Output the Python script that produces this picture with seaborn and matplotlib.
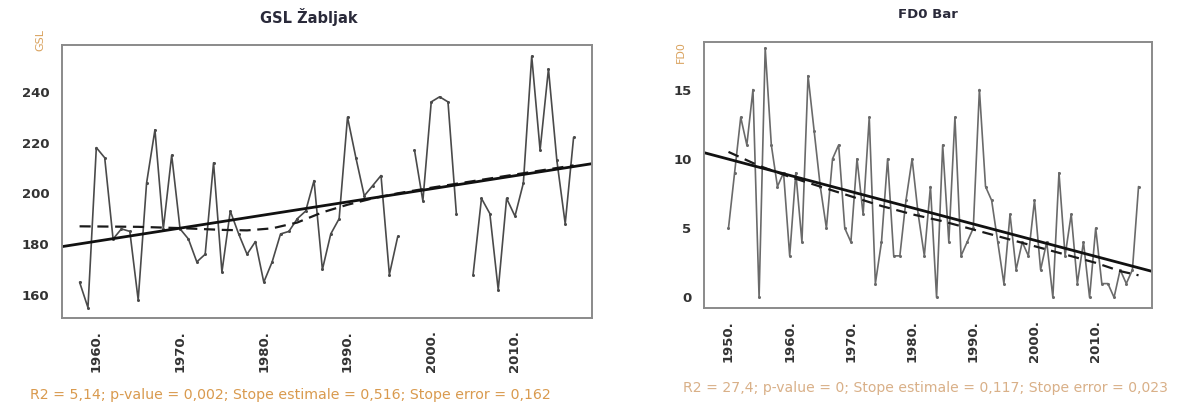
import numpy as np
import pandas as pd
import matplotlib
matplotlib.use("Agg")
import matplotlib.pyplot as plt
import seaborn as sns

# ---------------- data ----------------
gsl_years = list(range(1958, 2018))
gsl_values = [165, 155, 218, 214, 182, 186, 185, 158, 204, 225,
              186, 215, 186, 182, 173, 176, 212, 169, 193, 184,
              176, 181, 165, 173, 184, 185, 190, 193, 205, 170,
              184, 190, 230, 214, 199, 203, 207, 168, 183, np.nan,
              217, 197, 236, 238, 236, 192, np.nan, 168, 198, 192,
              162, 198, 191, 204, 254, 217, 249, 213, 188, 222]
gsl_smooth_years = [1958, 1965, 1970, 1975, 1978, 1981, 1984, 1987, 1990, 1993, 1996, 2000, 2005, 2010, 2017]
gsl_smooth_values = [187, 186.8, 186.3, 185.6, 185.4, 186.2, 188.5, 192.5, 195.5, 198, 200, 202.2, 204.8, 207.4, 211]
gsl_slope = 0.516
gsl_trend_at_1990 = 196.6

fd0_years = list(range(1950, 2018))
fd0_values = [5, 9, 13, 11, 15, 0, 18, 11, 8, 9,
              3, 9, 4, 16, 12, 8, 5, 10, 11, 5,
              4, 10, 6, 13, 1, 4, 10, 3, 3, 7,
              10, 6, 3, 8, 0, 11, 4, 13, 3, 4,
              5, 15, 8, 7, 4, 1, 6, 2, 4, 3,
              7, 2, 4, 0, 9, 3, 6, 1, 4, 0,
              5, 1, 1, 0, 2, 1, 2, 8]
fd0_smooth_years = [1950, 1955, 1960, 1965, 1970, 1975, 1980, 1985, 1990, 1995, 2000, 2005, 2010, 2014, 2017]
fd0_smooth_values = [10.5, 9.5, 8.7, 8.0, 7.3, 6.6, 6.0, 5.5, 4.9, 4.3, 3.7, 3.1, 2.5, 1.9, 1.6]
fd0_slope = -0.117
fd0_trend_at_1990 = 5.3

titles = ["GSL Žabljak", "FD0 Bar"]
ylabels = ["GSL", "FD0"]
captions = ["R2 = 5,14; p-value = 0,002; Stope estimale = 0,516; Stope error = 0,162",
            "R2 = 27,4; p-value = 0; Stope estimale = 0,117; Stope error = 0,023"]
gsl_xticks = [1960, 1970, 1980, 1990, 2000, 2010]
fd0_xticks = [1950, 1960, 1970, 1980, 1990, 2000, 2010]
gsl_yticks = [160, 180, 200, 220, 240]
fd0_yticks = [0, 5, 10, 15]

# ---------------- style ----------------
sns.set_style("white")
plt.rcParams['font.family'] = ['DejaVu Sans']

W, H = 1177, 405
fig = plt.figure(figsize=(W / 100, H / 100), dpi=100)

def frac_axes(x0, y0, x1, y1):
    return fig.add_axes([x0 / W, 1 - y1 / H, (x1 - x0) / W, (y1 - y0) / H])

ax1 = frac_axes(62, 45, 592, 318)
ax2 = frac_axes(704, 42, 1152, 308)

def segments(years, values):
    df = pd.DataFrame({"year": years, "value": values})
    df["seg"] = df["value"].isna().cumsum()
    return df.dropna()

def draw(ax, years, values, sm_years, sm_values, slope, at1990, xlim, ylim,
         xticks, yticks, line_color):
    df = segments(years, values)
    sns.lineplot(data=df, x="year", y="value", units="seg", estimator=None,
                 color=line_color, linewidth=1.2, marker="o", markersize=2.2,
                 markeredgewidth=0, ax=ax, legend=False)
    sm = pd.DataFrame({"year": sm_years, "value": sm_values})
    sns.lineplot(data=sm, x="year", y="value", color="#1a1a1a", linewidth=1.6,
                 linestyle=(0, (5, 3)), ax=ax, legend=False)
    tx = np.array(xlim)
    tr = pd.DataFrame({"year": tx, "value": at1990 + slope * (tx - 1990)})
    sns.lineplot(data=tr, x="year", y="value", color="#111111", linewidth=2.0,
                 ax=ax, legend=False)
    ax.set_xlim(*xlim)
    ax.set_ylim(*ylim)
    ax.set_xticks(xticks)
    ax.set_xticklabels([f"{t}." for t in xticks], rotation=90,
                       fontsize=9.5, fontweight="bold", color="#333333")
    ax.set_yticks(yticks)
    ax.set_yticklabels([str(t) for t in yticks], fontsize=9.5,
                       fontweight="bold", color="#333333")
    ax.tick_params(axis="both", direction="out", length=5, width=2,
                   color="#222222", pad=4)
    ax.set_xlabel("")
    ax.set_ylabel("")
    for s in ax.spines.values():
        s.set_color("#8a8a8a")
        s.set_linewidth(1.4)

draw(ax1, gsl_years, gsl_values, gsl_smooth_years, gsl_smooth_values,
     gsl_slope, gsl_trend_at_1990, (1955.9, 2019.2), (150.9, 258.4),
     gsl_xticks, gsl_yticks, "#4a4a4a")
draw(ax2, fd0_years, fd0_values, fd0_smooth_years, fd0_smooth_values,
     fd0_slope, fd0_trend_at_1990, (1946.0, 2019.2), (-0.76, 18.43),
     fd0_xticks, fd0_yticks, "#6a6a6a")

fig.text(309 / W, 1 - 17 / H, titles[0], ha="center", va="center",
         fontsize=10.5, fontweight="bold", color="#2a2a3a")
fig.text(928 / W, 1 - 14 / H, titles[1], ha="center", va="center",
         fontsize=9.5, fontweight="bold", color="#2a2a3a")
fig.text(40 / W, 1 - 40 / H, ylabels[0], rotation=90, ha="center", va="center",
         fontsize=8, color="#d9a25e")
fig.text(681 / W, 1 - 52 / H, ylabels[1], rotation=90, ha="center", va="center",
         fontsize=8, color="#d9a25e")
fig.text(30 / W, 1 - 395 / H, captions[0], ha="left", va="center",
         fontsize=10.2, color="#d99a4e")
fig.text(683 / W, 1 - 388 / H, captions[1], ha="left", va="center",
         fontsize=10.1, color="#d9b088")

fig.savefig("out.png", dpi=100)
